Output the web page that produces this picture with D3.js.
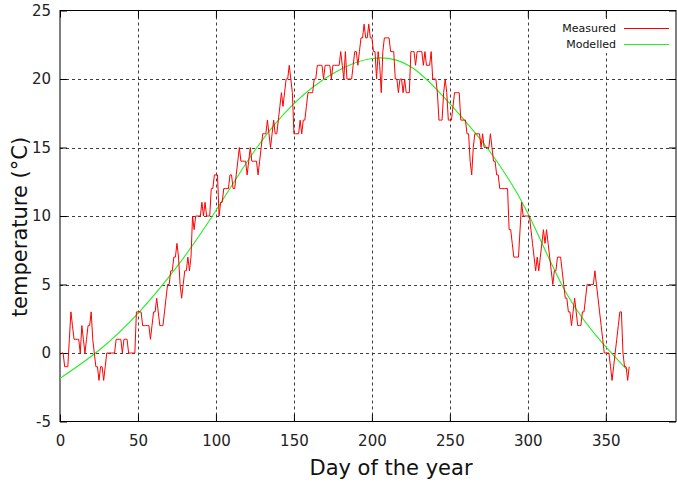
<!DOCTYPE html>
<html>
<head>
<meta charset="utf-8">
<script src="https://cdn.jsdelivr.net/npm/d3@7"></script>
<style>
body { margin: 0; background: #fff; }
text { font-family: "DejaVu Sans", sans-serif; }
</style>
</head>
<body>
<svg id="chart" width="677" height="483"></svg>
<script>
// daily measured temperature, day 1 .. 365
const measured = [
  0,0,-1,-1,-1,1,3,2,1,1,
  1,1,0,2,1,0,1,2,2,3,
  1,0,-1,-1,-2,-1,-1,-2,-1,0,
  0,0,0,0,0,1,1,1,1,0,
  1,1,1,0,0,0,0,0,3,3,
  3,3,2,2,2,2,2,1,2,3,
  3,4,3,2,2,2,3,4,5,5,
  6,6,7,7,8,7,5,4,5,6,
  6,7,6,7,10,9,10,10,10,10,
  11,10,11,10,10,10,12,12,13,13,
  13,10,11,11,12,12,12,12,13,13,
  12,12,13,14,15,14,14,14,14,13,
  14,15,14,14,14,14,13,14,15,16,
  16,16,17,16,15,16,17,16,16,17,
  18,19,18,19,20,20,21,20,19,16,
  16,16,16,17,16,17,17,18,19,19,
  19,19,20,20,21,21,21,21,20,21,
  21,21,21,20,21,21,21,21,21,22,
  21,20,22,20,20,20,20,21,22,22,
  21,22,23,23,24,23,23,24,23,23,
  22,22,20,22,21,19,22,23,23,23,
  23,22,22,22,20,20,19,20,20,19,
  20,19,19,19,22,22,22,21,22,22,
  22,22,21,22,21,21,21,22,20,20,
  20,19,17,17,17,19,20,19,17,17,
  17,18,19,19,19,19,17,17,17,17,
  16,16,14,13,15,16,16,16,16,15,
  16,15,15,15,15,16,15,14,14,13,
  13,12,12,12,12,12,12,9,9,8,
  7,7,7,7,9,11,10,10,10,10,
  10,9,8,7,6,7,6,7,8,9,
  8,9,8,7,6,5,6,6,7,7,
  7,6,5,4,4,3,3,2,3,4,
  3,2,2,2,3,3,4,5,5,5,
  5,5,6,5,4,3,2,1,0,0,
  0,0,-1,-2,-1,0,1,2,3,3,
  0,-1,-1,-2,-1
];
const days = d3.range(1, measured.length + 1);

const modelDays = [0, 25, 50, 75, 100, 125, 150, 175, 200, 225, 250, 275, 300, 325, 350, 364];
const modelled  = [-1.85, 0.2, 2.9, 6.3, 10.4, 14.8, 18.2, 20.4, 21.5, 20.9, 18.2, 14.8, 10.2, 4.3, 0.44, -1.26];

const xTicks = [0, 50, 100, 150, 200, 250, 300, 350];
const yTicks = [-5, 0, 5, 10, 15, 20, 25];

const pL = 60, pR = 676, pT = 10.5, pB = 421.5;

const svg = d3.select('#chart');

const x = d3.scaleLinear().domain([0, 395]).range([pL, pR]);
const y = d3.scaleLinear().domain([-5, 25]).range([pB, pT]);

// grid
const grid = svg.append('g')
  .attr('stroke', '#000')
  .attr('stroke-width', 1)
  .attr('stroke-dasharray', '3,3')
  .attr('opacity', 0.75);

grid.selectAll('.vg').data(xTicks.filter(d => d > 0)).enter().append('line')
  .attr('x1', d => Math.round(x(d)) + 0.5).attr('x2', d => Math.round(x(d)) + 0.5)
  .attr('y1', pT).attr('y2', pB);
grid.selectAll('.hg').data(yTicks.filter(d => d > -5 && d < 25)).enter().append('line')
  .attr('y1', d => Math.round(y(d)) + 0.5).attr('y2', d => Math.round(y(d)) + 0.5)
  .attr('x1', pL).attr('x2', pR);

// axes (ticks inward, mirrored), plain hyphen for negatives like gnuplot
const fmt = d => String(d);
const xAxis = d3.axisBottom(x).tickValues(xTicks).tickSize(-7).tickPadding(14).tickFormat(fmt);
const yAxis = d3.axisLeft(y).tickValues(yTicks).tickSize(-7).tickPadding(9).tickFormat(fmt);

svg.append('g').attr('transform', `translate(0,${pB})`).call(xAxis);
svg.append('g').attr('transform', `translate(${pL},0)`).call(yAxis);
svg.append('g').attr('transform', `translate(0,${pT})`)
  .call(d3.axisTop(x).tickValues(xTicks).tickSize(-7).tickFormat(''));
svg.append('g').attr('transform', `translate(${pR},0)`)
  .call(d3.axisRight(y).tickValues(yTicks).tickSize(-7).tickFormat(''));

svg.selectAll('.domain').remove();
svg.selectAll('.tick line').attr('stroke', '#000');
svg.selectAll('.tick text').attr('font-size', 15).attr('fill', '#222')
  .attr('font-family', '"DejaVu Sans", sans-serif');

// border
svg.append('rect')
  .attr('x', pL).attr('y', pT)
  .attr('width', pR - pL).attr('height', pB - pT)
  .attr('fill', 'none').attr('stroke', '#000').attr('stroke-width', 1);

svg.append('clipPath').attr('id', 'clip').append('rect')
  .attr('x', pL).attr('y', pT).attr('width', pR - pL).attr('height', pB - pT);

// legend background
svg.append('rect').attr('x', 548).attr('y', 19).attr('width', 126).attr('height', 34).attr('fill', '#fff');

// modelled
svg.append('path')
  .datum(modelDays.map((d, i) => [d, modelled[i]]))
  .attr('clip-path', 'url(#clip)')
  .attr('fill', 'none')
  .attr('stroke', '#22ee22')
  .attr('stroke-width', 1.1)
  .attr('d', d3.line().x(d => x(d[0])).y(d => y(d[1])).curve(d3.curveNatural));

// measured
svg.append('path')
  .datum(days.map((d, i) => [d, measured[i]]))
  .attr('fill', 'none')
  .attr('stroke', '#ff0000')
  .attr('stroke-width', 1)
  .attr('stroke-linejoin', 'round')
  .attr('d', d3.line().x(d => x(d[0])).y(d => y(d[1])));

// legend
const legend = [['Measured', '#ff0000'], ['Modelled', '#22ee22']];
legend.forEach((l, i) => {
  const ly = 28 + i * 16;
  svg.append('text').attr('x', 616).attr('y', ly).attr('dy', '0.35em')
    .attr('text-anchor', 'end').attr('font-size', 11).attr('fill', '#111').text(l[0]);
  svg.append('line').attr('x1', 624).attr('x2', 669).attr('y1', ly + 0.5).attr('y2', ly + 0.5)
    .attr('stroke', l[1]).attr('stroke-width', 1);
});

// axis titles
svg.append('text').attr('x', 391).attr('y', 475)
  .attr('text-anchor', 'middle').attr('font-size', 21).attr('fill', '#111').text('Day of the year');
svg.append('text').attr('transform', 'translate(27,227) rotate(-90)')
  .attr('text-anchor', 'middle').attr('font-size', 21).attr('fill', '#111').text('temperature (°C)');
</script>
</body>
</html>
